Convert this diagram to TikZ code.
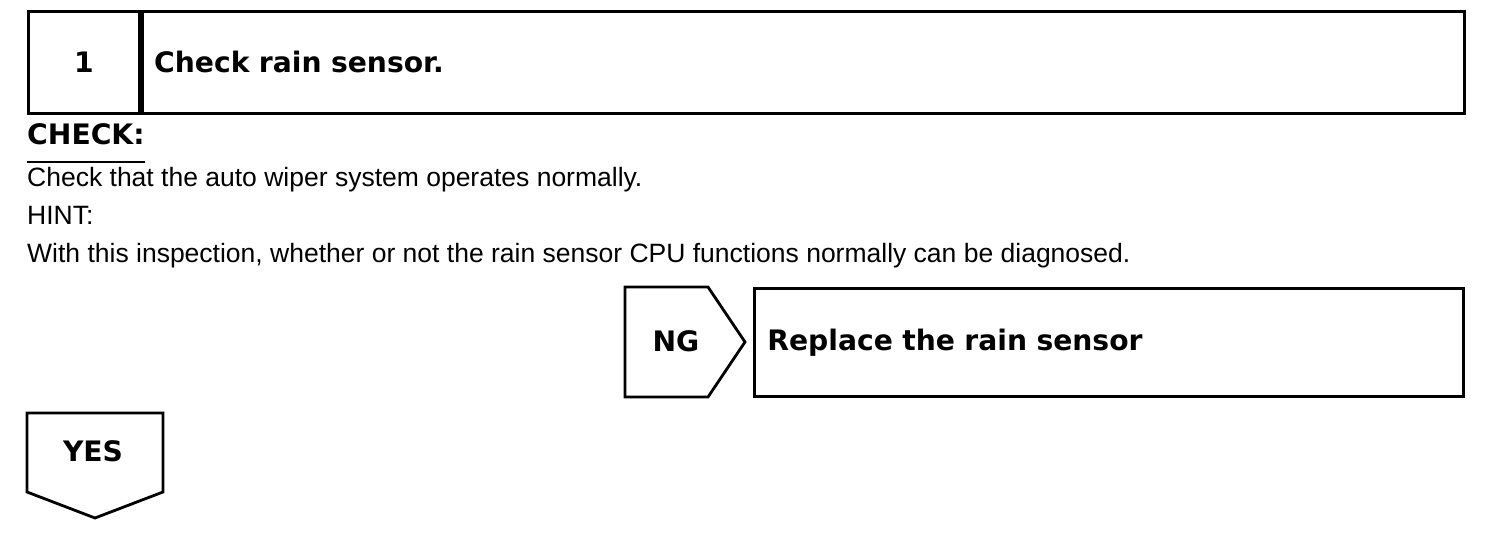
\documentclass[tikz,border=0pt]{standalone}
\usepackage{fontspec}
\setmainfont{Liberation Sans}
\newfontfamily\headfont{DejaVu Sans}
\usetikzlibrary{positioning}

\begin{document}
\begin{tikzpicture}[
  x=1pt, y=-1pt,
  font=\fontsize{26.5}{30}\selectfont,
  hd/.style    ={font=\headfont\bfseries\fontsize{28.2}{30}\selectfont},
  frame/.style ={draw, line width=2.8pt, inner sep=0pt},
  stepbox/.style ={frame, hd, anchor=north west, minimum height=102pt},
  txt/.style   ={anchor=base west, inner sep=0pt},
  tag/.style   ={line width=2.8pt, line join=miter},
]
\useasboundingbox (0,0) rectangle (1504,540);

% ================= step header =================
\node[stepbox, minimum width=111pt] (num) at (27,10) {1};
\node[stepbox, minimum width=1322pt, text width=1298pt, align=left,
      right=0pt of num] (title) {Check rain sensor.};

% ================= check text =================
\node[txt, hd] (check) at (27,145) {CHECK:};
\draw[line width=1.8pt] (check.base west) ++(0,17) coordinate (ul) -- (ul -| check.east);
\node[txt] (chk) at (27,187) {Check that the auto wiper system operates normally.};
\node[txt] (hint) at (27,225) {HINT:};
\node[txt] (with) at (27,262)
  {With this inspection, whether or not the rain sensor CPU functions normally can be diagnosed.};

% ================= NG branch =================
\draw[tag] (625,287) -- (708,287) -- (745,342) -- (708,397) -- (625,397) -- cycle;
\node[hd] (ng) at (676,341) {NG};
\node[frame, hd, anchor=north west, minimum width=709pt, minimum height=108pt,
      text width=683pt, align=left] (repl) at (753,287) {Replace the rain sensor};

% ================= YES branch =================
\draw[tag] (27,413) -- (163,413) -- (163,492) -- (95,518) -- (27,492) -- cycle;
\node[hd] (yes) at (93,451) {YES};

\end{tikzpicture}
\end{document}
